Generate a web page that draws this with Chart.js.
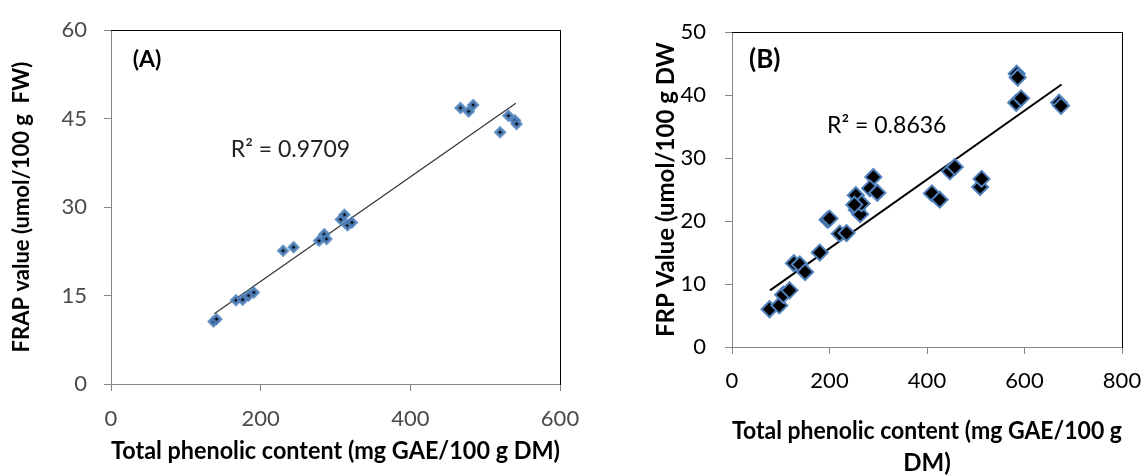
<!DOCTYPE html>
<html>
<head>
<meta charset="utf-8">
<script src="https://cdn.jsdelivr.net/npm/chart.js@4.4.1/dist/chart.umd.min.js"></script>
<style>
  html, body { margin: 0; padding: 0; background: #fff; }
  #wrap { position: relative; width: 1146px; height: 475px; overflow: hidden; }
  canvas { position: absolute; top: 0; }
  #chartA { left: 0; }
  #chartB { left: 600px; }
</style>
</head>
<body>
<div id="wrap">
  <canvas id="chartA" width="580" height="475" style="width:580px;height:475px"></canvas>
  <canvas id="chartB" width="546" height="475" style="width:546px;height:475px"></canvas>
</div>
<script>
// --- panel (A): FRAP value vs total phenolic content ---
const tpcA  = [137, 141, 167, 176, 184, 191, 230, 244, 278, 285, 288, 307, 312, 316, 322, 467, 478, 484, 520, 531, 540, 542];
const frapA = [10.6, 11.0, 14.2, 14.3, 15.0, 15.5, 22.6, 23.2, 24.3, 25.4, 24.6, 27.9, 28.7, 26.9, 27.4, 46.8, 46.2, 47.3, 42.7, 45.5, 44.7, 44.1];
const trendAX = [138, 541];
const trendAY = [11.9, 47.6];
const xTicksA = [0, 200, 400, 600];
const yTicksA = [0, 15, 30, 45, 60];

// --- panel (B): FRP value vs total phenolic content ---
const tpcB = [77, 97, 105, 118, 127, 139, 150, 180, 196, 200, 221, 235, 254, 256, 263, 266, 251, 290, 283, 298,
              410, 426, 447, 457, 509, 512, 584, 586, 583, 593, 671, 675];
const frpB = [6.0, 6.6, 8.3, 9.0, 13.3, 13.1, 11.9, 15.0, 20.2, 20.4, 18.0, 18.1, 24.1, 21.8, 21.1, 22.8, 22.6, 27.0, 25.2, 24.5,
              24.4, 23.4, 27.9, 28.6, 25.4, 26.7, 43.4, 42.8, 38.8, 39.5, 38.8, 38.3];
const trendBX = [78, 676];
const trendBY = [9.0, 41.7];
const xTicksB = [0, 200, 400, 600, 800];
const yTicksB = [0, 10, 20, 30, 40, 50];

Chart.defaults.font.family = 'Lato, "Open Sans", sans-serif';

const AXIS_GREY = '#868686';

// draws the small panel letters and R² notes at data coordinates
const notesPlugin = {
  id: 'notes',
  afterDatasetsDraw(chart, args, opts) {
    const { ctx, scales } = chart;
    (opts.items || []).forEach(it => {
      ctx.save();
      ctx.font = it.font;
      ctx.fillStyle = it.color || '#000';
      ctx.textAlign = 'left';
      ctx.textBaseline = 'middle';
      ctx.fillText(it.text, scales.x.getPixelForValue(it.x), scales.y.getPixelForValue(it.y));
      ctx.restore();
    });
  }
};

function toPoints(xs, ys) {
  return xs.map((x, i) => ({ x, y: ys[i] }));
}

function fixedSize(prop, size) {
  return scale => {
    scale[prop] = size;
    scale.paddingLeft = 0;
    scale.paddingRight = 0;
  };
}

function buildChart(canvas, cfg) {
  return new Chart(canvas, {
    type: 'scatter',
    data: {
      datasets: [
        {
          label: 'samples',
          data: toPoints(cfg.xs, cfg.ys),
          pointStyle: 'rectRot',
          pointRadius: cfg.marker.radius,
          pointBorderWidth: cfg.marker.border,
          pointBackgroundColor: '#000',
          pointBorderColor: cfg.marker.color,
          pointHoverRadius: cfg.marker.radius
        },
        {
          type: 'line',
          label: 'trend',
          data: toPoints(cfg.trendX, cfg.trendY),
          showLine: true,
          borderColor: cfg.trendColor,
          borderWidth: cfg.trendWidth,
          pointRadius: 0,
          fill: false
        }
      ]
    },
    options: {
      responsive: false,
      animation: false,
      layout: { padding: cfg.padding },
      plugins: {
        legend: { display: false },
        tooltip: { enabled: false },
        notes: { items: cfg.notes }
      },
      scales: {
        x: {
          type: 'linear',
          position: 'bottom',
          min: cfg.xTicks[0],
          max: cfg.xTicks[cfg.xTicks.length - 1],
          afterBuildTicks: s => { s.ticks = cfg.xTicks.map(v => ({ value: v })); },
          afterFit: fixedSize('height', cfg.xHeight),
          grid: { drawOnChartArea: false, drawTicks: true, tickLength: 7, color: AXIS_GREY },
          border: { color: AXIS_GREY, width: 1 },
          ticks: { color: cfg.tickColor, font: { size: 22 }, padding: cfg.xTickPad, maxRotation: 0 },
          title: {
            display: true,
            text: cfg.xTitle,
            color: '#000',
            font: { size: 24, weight: 'bold', lineHeight: cfg.xTitleLH },
            padding: { top: 0, bottom: cfg.xTitlePad }
          }
        },
        y: {
          type: 'linear',
          position: 'left',
          min: cfg.yTicks[0],
          max: cfg.yTicks[cfg.yTicks.length - 1],
          afterBuildTicks: s => { s.ticks = cfg.yTicks.map(v => ({ value: v })); },
          afterFit: fixedSize('width', cfg.yWidth),
          grid: { drawOnChartArea: false, drawTicks: true, tickLength: 7, color: AXIS_GREY },
          border: { color: AXIS_GREY, width: 1 },
          ticks: { color: cfg.tickColor, font: { size: 22 }, padding: cfg.yTickPad },
          title: {
            display: true,
            text: cfg.yTitle,
            color: '#000',
            font: { size: cfg.yTitleSize, weight: 'bold' },
            padding: { top: cfg.yTitlePad, bottom: 0 }
          }
        },
        xTop: {
          type: 'linear',
          position: 'top',
          grid: { display: false, drawTicks: false },
          ticks: { display: false },
          border: { display: true, color: '#000', width: 1 }
        },
        yRight: {
          type: 'linear',
          position: 'right',
          grid: { display: false, drawTicks: false },
          ticks: { display: false },
          border: { display: true, color: '#000', width: 1 }
        }
      }
    },
    plugins: [notesPlugin]
  });
}

buildChart(document.getElementById('chartA'), {
  xs: tpcA, ys: frapA, trendX: trendAX, trendY: trendAY,
  xTicks: xTicksA, yTicks: yTicksA,
  marker: { radius: 4, border: 3.5, color: 'rgba(79,129,189,0.85)' },
  trendColor: '#333', trendWidth: 1.2,
  padding: { left: 0, top: 20, right: 20, bottom: 0 },
  xHeight: 91, yWidth: 111,
  tickColor: '#4a4a4a', xTickPad: 15, yTickPad: 17,
  xTitle: 'Total phenolic content (mg GAE/100 g DM)', xTitleLH: 1.2, xTitlePad: 9,
  yTitle: 'FRAP value (umol/100 g  FW)', yTitleSize: 22, yTitlePad: 9,
  notes: [
    { text: '(A)', x: 29, y: 55, font: 'bold 23px Lato' },
    { text: 'R\u00B2 = 0.9709', x: 160, y: 39.7, font: '23px Lato', color: '#222' }
  ]
});

buildChart(document.getElementById('chartB'), {
  xs: tpcB, ys: frpB, trendX: trendBX, trendY: trendBY,
  xTicks: xTicksB, yTicks: yTicksB,
  marker: { radius: 8, border: 2, color: '#4F81BD' },
  trendColor: '#000', trendWidth: 2,
  padding: { left: 0, top: 22, right: 24, bottom: 0 },
  xHeight: 128, yWidth: 132,
  tickColor: '#000', xTickPad: 14, yTickPad: 19,
  xTitle: ['Total phenolic content (mg GAE/100 g', 'DM)'], xTitleLH: '32px', xTitlePad: -4,
  yTitle: 'FRP Value (umol/100 g DW', yTitleSize: 24, yTitlePad: 52,
  notes: [
    { text: '(B)', x: 35, y: 45.7, font: 'bold 26px Lato' },
    { text: 'R\u00B2 = 0.8636', x: 195, y: 35.2, font: '23px Lato', color: '#000' }
  ]
});
</script>
</body>
</html>
